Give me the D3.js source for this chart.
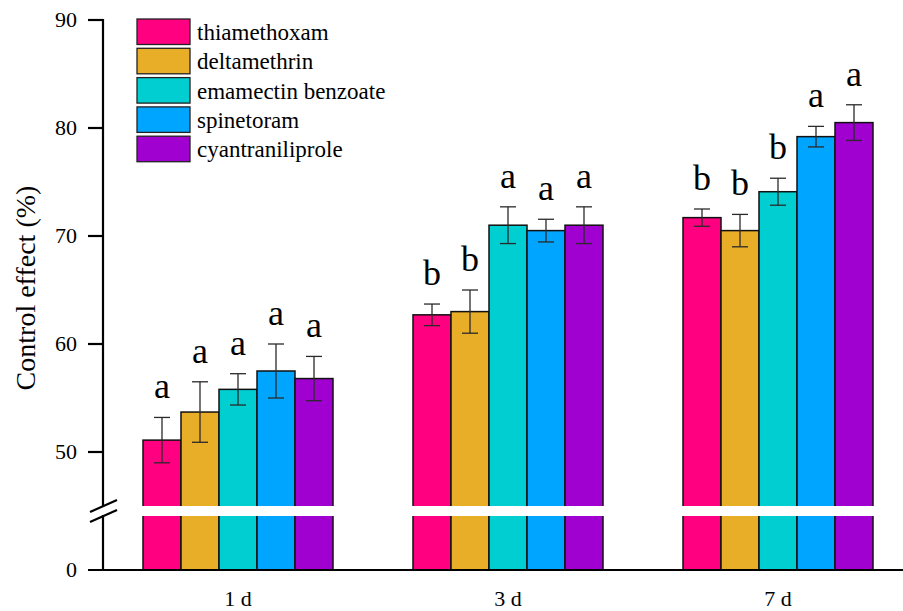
<!DOCTYPE html>
<html>
<head>
<meta charset="utf-8">
<script src="https://cdn.jsdelivr.net/npm/d3@7"></script>
<style>
  html, body { margin: 0; padding: 0; background: #fff; }
  svg { display: block; }
</style>
</head>
<body>
<svg id="chart" width="903" height="611"></svg>
<script>
// ---- data ----
const days = ["1 d", "3 d", "7 d"];
const insecticides = ["thiamethoxam", "deltamethrin", "emamectin benzoate", "spinetoram", "cyantraniliprole"];
const colors = ["#FF0080", "#E8AE28", "#00CED1", "#00A5FF", "#A000D0"];
const thiamethoxam = [51.1, 62.7, 71.7];
const deltamethrin = [53.7, 63.0, 70.5];
const emamectinBenzoate = [55.8, 71.0, 74.1];
const spinetoram = [57.5, 70.5, 79.2];
const cyantraniliprole = [56.8, 71.0, 80.5];
const errThiamethoxam = [2.1, 1.0, 0.8];
const errDeltamethrin = [2.8, 2.0, 1.5];
const errEmamectin = [1.45, 1.7, 1.25];
const errSpinetoram = [2.5, 1.05, 0.95];
const errCyantraniliprole = [2.05, 1.7, 1.65];
const lettersThiamethoxam = ["a", "b", "b"];
const lettersDeltamethrin = ["a", "b", "b"];
const lettersEmamectin = ["a", "a", "b"];
const lettersSpinetoram = ["a", "a", "a"];
const lettersCyantraniliprole = ["a", "a", "a"];
const yTicks = [0, 50, 60, 70, 80, 90];

const seriesMeans = [thiamethoxam, deltamethrin, emamectinBenzoate, spinetoram, cyantraniliprole];
const seriesErr = [errThiamethoxam, errDeltamethrin, errEmamectin, errSpinetoram, errCyantraniliprole];
const seriesLetters = [lettersThiamethoxam, lettersDeltamethrin, lettersEmamectin, lettersSpinetoram, lettersCyantraniliprole];

const records = [];
days.forEach((d, di) => {
  insecticides.forEach((s, si) => {
    records.push({ day: d, series: s, si, mean: seriesMeans[si][di], err: seriesErr[si][di], letter: seriesLetters[si][di] });
  });
});

const FONT = "Liberation Serif";

// ---- layout ----
const svg = d3.select("#chart");
const axisX = 103, axisLeft = 88, axisRight = 903;
const breakLow = 5, breakHigh = 45;

const x0 = d3.scaleBand().domain(days).range([103, 913]).paddingInner(80 / 270).paddingOuter(40 / 270);
const x1 = d3.scaleBand().domain(insecticides).range([0, x0.bandwidth()]).padding(0);
const y = d3.scaleLinear().domain([0, breakLow, breakHigh, 90]).range([570, 516, 506, 20]);
const color = d3.scaleOrdinal().domain(insecticides).range(colors);

// bars
const g = svg.append("g");
g.selectAll("rect.bar").data(records).join("rect")
  .attr("class", "bar")
  .attr("x", d => x0(d.day) + x1(d.series))
  .attr("y", d => y(d.mean))
  .attr("width", x1.bandwidth())
  .attr("height", d => y(0) - y(d.mean))
  .attr("fill", d => color(d.series))
  .attr("stroke", "#111")
  .attr("stroke-width", 1.5);

// white break gap across bars
g.selectAll("rect.gap").data(days).join("rect")
  .attr("class", "gap")
  .attr("x", d => x0(d) - 1.5)
  .attr("y", y(breakHigh))
  .attr("width", x0.bandwidth() + 3)
  .attr("height", y(breakLow) - y(breakHigh))
  .attr("fill", "#fff");

// error bars
const cap = 8;
const eb = g.selectAll("g.err").data(records).join("g").attr("class", "err")
  .attr("stroke", "#2a2a2a").attr("stroke-width", 1.3);
const cx = d => x0(d.day) + x1(d.series) + x1.bandwidth() / 2;
eb.append("line")
  .attr("x1", cx).attr("x2", cx)
  .attr("y1", d => y(d.mean + d.err))
  .attr("y2", d => y(d.mean - d.err));
eb.append("line")
  .attr("x1", d => cx(d) - cap).attr("x2", d => cx(d) + cap)
  .attr("y1", d => y(d.mean + d.err))
  .attr("y2", d => y(d.mean + d.err));
eb.append("line")
  .attr("x1", d => cx(d) - cap).attr("x2", d => cx(d) + cap)
  .attr("y1", d => y(d.mean - d.err))
  .attr("y2", d => y(d.mean - d.err));

// significance letters
g.selectAll("text.sig").data(records).join("text")
  .attr("class", "sig")
  .attr("x", cx)
  .attr("y", d => y(d.mean + d.err) - 19)
  .attr("text-anchor", "middle")
  .attr("font-family", FONT)
  .attr("font-size", 36)
  .attr("fill", "#000")
  .text(d => d.letter);

// ---- y axis ----
const ax = svg.append("g").attr("stroke", "#000").attr("stroke-width", 2.2).attr("fill", "none");
ax.append("line").attr("x1", axisX).attr("x2", axisX).attr("y1", y(90) - 1).attr("y2", y(breakHigh) + 1);
ax.append("line").attr("x1", axisX).attr("x2", axisX).attr("y1", y(breakLow) - 1).attr("y2", y(0));
// break marks
ax.append("line").attr("x1", 90).attr("y1", y(breakHigh) + 6).attr("x2", 117).attr("y2", y(breakHigh) - 6);
ax.append("line").attr("x1", 90).attr("y1", y(breakLow) + 6).attr("x2", 117).attr("y2", y(breakLow) - 6);
// ticks
ax.selectAll("line.tick").data(yTicks.filter(t => t > 0)).join("line")
  .attr("class", "tick")
  .attr("x1", axisLeft).attr("x2", axisX)
  .attr("y1", d => y(d)).attr("y2", d => y(d));
// x axis line
ax.append("line").attr("x1", axisLeft).attr("x2", axisRight).attr("y1", y(0)).attr("y2", y(0));

svg.selectAll("text.ytick").data(yTicks).join("text")
  .attr("class", "ytick")
  .attr("x", 77)
  .attr("y", d => y(d))
  .attr("dy", "0.34em")
  .attr("text-anchor", "end")
  .attr("font-family", FONT)
  .attr("font-size", 22)
  .text(d => d);

// x labels
svg.selectAll("text.xlab").data(days).join("text")
  .attr("class", "xlab")
  .attr("x", d => x0(d) + x0.bandwidth() / 2)
  .attr("y", 606)
  .attr("text-anchor", "middle")
  .attr("font-family", FONT)
  .attr("font-size", 22)
  .text(d => d);

// y title
svg.append("text")
  .attr("transform", "translate(35,288) rotate(-90)")
  .attr("text-anchor", "middle")
  .attr("font-family", FONT)
  .attr("font-size", 28)
  .text("Control effect (%)");

// ---- legend ----
const leg = svg.append("g").attr("transform", "translate(137,19)");
const li = leg.selectAll("g").data(insecticides).join("g")
  .attr("transform", (d, i) => `translate(0,${i * 29.3})`);
li.append("rect")
  .attr("width", 53).attr("height", 25.5)
  .attr("fill", d => color(d))
  .attr("stroke", "#222").attr("stroke-width", 1.3);
li.append("text")
  .attr("x", 60).attr("y", 21)
  .attr("font-family", FONT)
  .attr("font-size", 23)
  .text(d => d);
</script>
</body>
</html>
